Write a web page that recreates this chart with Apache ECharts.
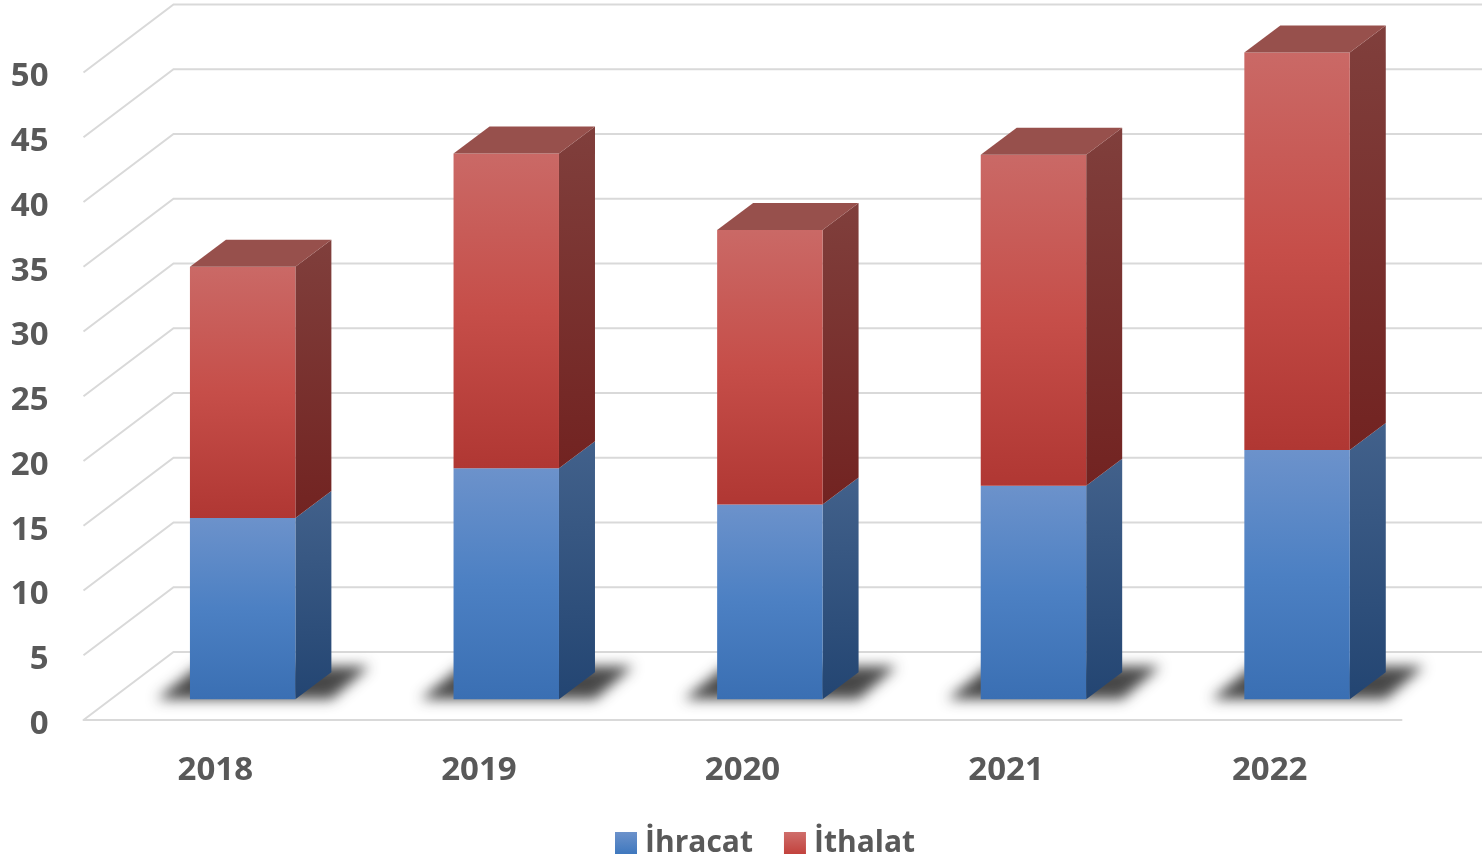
<!DOCTYPE html>
<html>
<head>
<meta charset="utf-8">
<style>html,body{margin:0;padding:0;background:#fff}#c{width:1482px;height:859px}</style>
<script src="https://cdn.jsdelivr.net/npm/echarts@6/dist/echarts.min.js"></script>
</head>
<body>
<div id="c"></div>
<script>
const years = ['2018','2019','2020','2021','2022'];
const ihracat = [14.0, 17.85, 15.05, 16.5, 19.25];
const ithalat = [19.4, 24.3, 21.2, 25.55, 30.7];
const wallTicks = [0,5,10,15,20,25,30,35,40,45,50];

const FONT = '"Open Sans", "Noto Sans", sans-serif';
const DEPTH = {x: 90, y: -68};           // floor depth in pixels
const BAR_POS = 0.304;                   // where bars stand within that depth
const BAR_DEPTH = {x: 36, y: -27};
const BAR_W = 0.4;                       // share of a category band

function vg(stops){
  return {type:'linear',x:0,y:0,x2:0,y2:1,colorStops:stops.map((c,i)=>({offset:c[0],color:c[1]}))};
}
const SKIN = {
  exp:{front:vg([[0,'#6C92CB'],[0.5,'#4C80C3'],[1,'#3A6FB3']]),
       side:vg([[0,'#42618B'],[1,'#234572']]), top:'#42618B'},
  imp:{front:vg([[0,'#CA6966'],[0.5,'#C64E49'],[1,'#B03733']]),
       side:vg([[0,'#803F3C'],[1,'#722321']]), top:'#97504C'}
};

function barRender(skin, isTop, base){
  return function(params, api){
    const i = api.value(0), v = api.value(1);
    const b = base ? base[i] : 0;
    const p0 = api.coord([i, b]), p1 = api.coord([i, b + v]);
    const w = api.size([1,0])[0] * BAR_W;
    const ox = DEPTH.x * BAR_POS, oy = DEPTH.y * BAR_POS;
    const l = p0[0] - w/2 + ox, r = l + w, yb = p0[1] + oy, yt = p1[1] + oy;
    const dx = BAR_DEPTH.x, dy = BAR_DEPTH.y;
    const kids = [
      {type:'polygon', shape:{points:[[r,yb],[r+dx,yb+dy],[r+dx,yt+dy],[r,yt]]}, style:{fill:skin.side}},
      {type:'rect', shape:{x:l,y:yt,width:w,height:yb-yt}, style:{fill:skin.front}}
    ];
    if(isTop) kids.push({type:'polygon', shape:{points:[[l,yt],[l+dx,yt+dy],[r+dx,yt+dy],[r,yt]]}, style:{fill:skin.top}});
    return {type:'group', children:kids};
  };
}
const OFF = 3000;   // draw only the blurred shadow: shape off canvas, shadow shifted back
function shadowRender(params, api){
  const i = api.value(0);
  const p0 = api.coord([i, 0]);
  const w = api.size([1,0])[0] * BAR_W;
  const ox = DEPTH.x * BAR_POS, oy = DEPTH.y * BAR_POS;
  const l = p0[0] - w/2 + ox - OFF, r = l + w, yb = p0[1] + oy;
  return {type:'polygon', shape:{points:[[l-33,yb],[l+8,yb-33],[r+74,yb-33],[r+36,yb]]},
    style:{fill:'#000', shadowBlur:13, shadowOffsetX:OFF, shadowColor:'rgba(40,40,40,0.85)'}};
}
function wallRender(params, api){
  const y = api.coord([0, api.value(0)])[1];
  const g = params.coordSys;
  const x0 = g.x, x1 = g.x + DEPTH.x, x2 = g.x + g.width + DEPTH.x;
  return {type:'polyline', shape:{points:[[x0,y],[x1,y+DEPTH.y],[x2,y+DEPTH.y]]},
    style:{stroke:'#D9D9D9', lineWidth:2, fill:null}};
}
const chart = echarts.init(document.getElementById('c'), null, {renderer:'canvas'});
chart.setOption({
  animation:false,
  backgroundColor:'#fff',
  grid:{left:83.5, right:80.5, top:72.5, bottom:139},
  legend:{
    left:610, top:823, itemWidth:22, itemHeight:22, itemGap:31, selectedMode:false,
    textStyle:{fontFamily:FONT, fontWeight:'bold', fontSize:30, color:'#595959', padding:[0,0,0,3]},
    data:[
      {name:'İhracat', icon:'rect', itemStyle:{color:vg([[0,'#6C92CB'],[1,'#3F78BE'] ])}},
      {name:'İthalat', icon:'rect', itemStyle:{color:vg([[0,'#CF6E6B'],[1,'#C2423D'] ])}}
    ]
  },
  xAxis:{type:'category', data:years, axisTick:{show:false},
    axisLine:{lineStyle:{color:'#D9D9D9', width:2}},
    axisLabel:{margin:34, fontFamily:FONT, fontWeight:'bold', fontSize:33, color:'#595959'}},
  yAxis:{type:'value', min:0, max:50, interval:5, axisLine:{show:false}, axisTick:{show:false}, splitLine:{show:false},
    axisLabel:{margin:35, verticalAlign:'top', lineHeight:9, fontFamily:FONT, fontWeight:'bold', fontSize:33, color:'#595959'}},
  series:[
    {type:'custom', name:'wall', silent:true, clip:false, z:1, renderItem:wallRender,
     encode:{y:0}, data:wallTicks.map(v=>[v])},
    {type:'custom', name:'shadow', silent:true, clip:false, z:2, renderItem:shadowRender,
     encode:{x:0,y:1}, data:years.map((y,i)=>[i,0])},
    {type:'custom', name:'İhracat', clip:false, z:3, renderItem:barRender(SKIN.exp,false,null),
     encode:{x:0,y:1}, data:ihracat.map((v,i)=>[i,v])},
    {type:'custom', name:'İthalat', clip:false, z:4, renderItem:barRender(SKIN.imp,true,ihracat),
     encode:{x:0,y:1}, data:ithalat.map((v,i)=>[i,v])}
  ]
});
</script>
</body>
</html>
